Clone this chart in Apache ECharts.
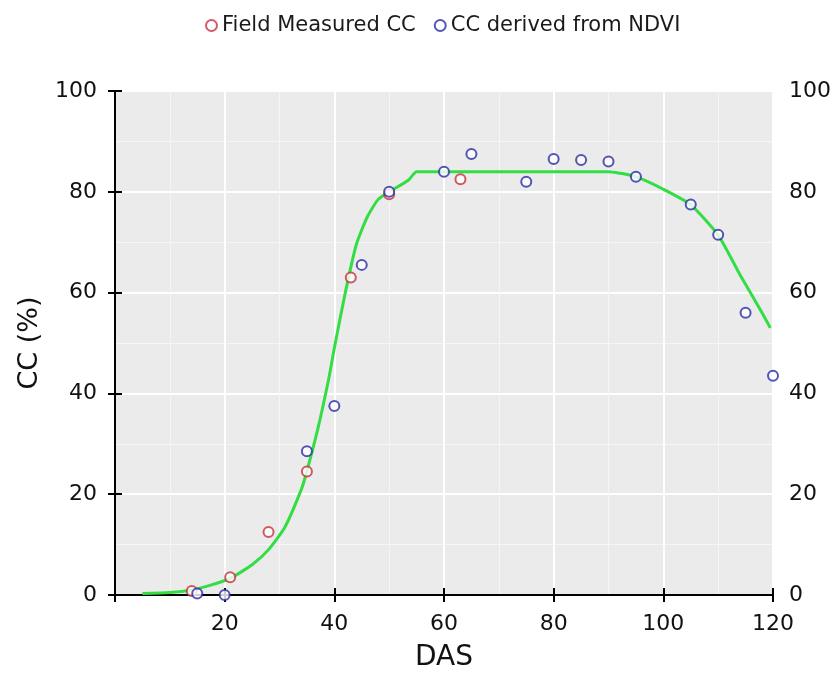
<!DOCTYPE html>
<html>
<head>
<meta charset="utf-8">
<script src="https://cdn.jsdelivr.net/npm/echarts@6/dist/echarts.min.js"></script>
<style>
    body { margin: 0; background: #fff; }
    #chart { width: 838px; height: 674px; }
</style>
</head>
<body>
<div id="chart"></div>
<script>

    // Field measurements
    let field_das = [14, 21, 28, 35, 43, 50, 63];
    let field_cc = [0.8, 3.5, 12.5, 24.5, 63, 79.5, 82.5];

    // CC derived from NDVI
    let ndvi_das = [15, 20, 35, 40, 45, 50, 60, 65, 75, 80, 85, 90, 95, 105, 110, 115, 120];
    let ndvi_cc = [0.3, 0, 28.5, 37.5, 65.5, 80, 84, 87.5, 82, 86.5, 86.3, 86, 83, 77.5, 71.5, 56, 43.5];

    // simulated curve (green)
    let curve_das = [5, 10, 14, 17, 21, 25, 28, 31, 34, 35, 37, 39, 40, 42, 44, 46, 48, 50, 53.5, 55, 60, 70, 80, 90, 92, 95, 100, 105, 110, 114, 118, 119.5];
    let curve_cc = [0.3, 0.5, 1, 1.8, 3.3, 6, 9, 13.5, 21, 24.6, 33, 43, 49, 60, 69.5, 75, 78.5, 80, 82.3, 84, 84, 84, 84, 84, 83.7, 83, 80.5, 77.4, 71.4, 63.5, 56, 53];

    let x_ticks = [0, 20, 40, 60, 80, 100, 120];
    let y_ticks = [0, 20, 40, 60, 80, 100];

    function pairs(xs, ys){
        let out = [];
        xs.forEach(function(x, i){
            out.push([x, ys[i]]);
        });
        return out;
    }

    let font = 'DejaVu Sans';

    let x_base = {
        type: 'value',
        min: x_ticks[0],
        max: x_ticks[x_ticks.length - 1],
        interval: 20,
        axisLine: { show: true, lineStyle: { color: '#000', width: 2 } },
        axisTick: { show: true, length: 7, lineStyle: { color: '#000', width: 2 } }
    };
    let y_base = {
        type: 'value',
        min: y_ticks[0],
        max: y_ticks[y_ticks.length - 1],
        interval: 20,
        axisLine: { show: true, lineStyle: { color: '#000', width: 2 } },
        axisTick: { show: true, length: 7, lineStyle: { color: '#000', width: 2 } }
    };

    let options = {
        animation: false,
        textStyle: { fontFamily: font },
        legend: {
            top: 10,
            left: 200,
            itemGap: 18,
            itemWidth: 11,
            itemHeight: 11,
            textStyle: { fontFamily: font, fontSize: 21, color: '#1a1a1a' },
            data: ['Field Measured CC', 'CC derived from NDVI']
        },
        grid: {
            left: 115,
            right: 65,
            top: 91,
            bottom: 79,
            outerBoundsMode: 'none',
            show: true,
            backgroundColor: '#ebebeb',
            borderWidth: 0
        },
        xAxis: [
            Object.assign({}, x_base, {
                position: 'bottom',
                name: 'DAS',
                nameLocation: 'middle',
                nameGap: 49,
                nameTextStyle: { fontFamily: font, fontSize: 28, color: '#111' },
                axisLabel: {
                    fontFamily: font, fontSize: 22, color: '#111', margin: 18,
                    formatter: function(v){ return v === 0 ? '' : v; }
                },
                splitLine: { show: true, lineStyle: { color: '#fff', width: 2 } },
                minorTick: { show: true, splitNumber: 2, length: 0 },
                minorSplitLine: { show: true, lineStyle: { color: '#f6f6f6', width: 1 } }
            }),
            Object.assign({}, x_base, {
                position: 'top',
                axisLabel: { show: false },
                splitLine: { show: false }
            })
        ],
        yAxis: [
            Object.assign({}, y_base, {
                position: 'left',
                name: 'CC (%)',
                nameLocation: 'middle',
                nameGap: 72,
                nameTextStyle: { fontFamily: font, fontSize: 27, color: '#111' },
                axisLabel: { fontFamily: font, fontSize: 22, color: '#111', margin: 18 },
                splitLine: { show: true, lineStyle: { color: '#fff', width: 2 } },
                minorTick: { show: true, splitNumber: 2, length: 0 },
                minorSplitLine: { show: true, lineStyle: { color: '#f6f6f6', width: 1 } }
            }),
            Object.assign({}, y_base, {
                position: 'right',
                axisLabel: { fontFamily: font, fontSize: 22, color: '#111', margin: 16 },
                splitLine: { show: false }
            })
        ],
        series: [
            {
                name: 'Simulated',
                type: 'line',
                data: pairs(curve_das, curve_cc),
                smooth: 0.2,
                showSymbol: false,
                z: 2,
                lineStyle: { color: '#33dd44', width: 3 }
            },
            {
                name: 'Field Measured CC',
                type: 'scatter',
                data: pairs(field_das, field_cc),
                symbol: 'emptyCircle',
                symbolSize: 10,
                z: 3,
                itemStyle: { color: '#c8303f', borderWidth: 2.2 }
            },
            {
                name: 'CC derived from NDVI',
                type: 'scatter',
                data: pairs(ndvi_das, ndvi_cc),
                symbol: 'emptyCircle',
                symbolSize: 10,
                z: 3,
                itemStyle: { color: '#2a2aa8', borderWidth: 2.2 }
            }
        ]
    };

    echarts.init(document.getElementById('chart')).setOption(options);

</script>
</body>
</html>
